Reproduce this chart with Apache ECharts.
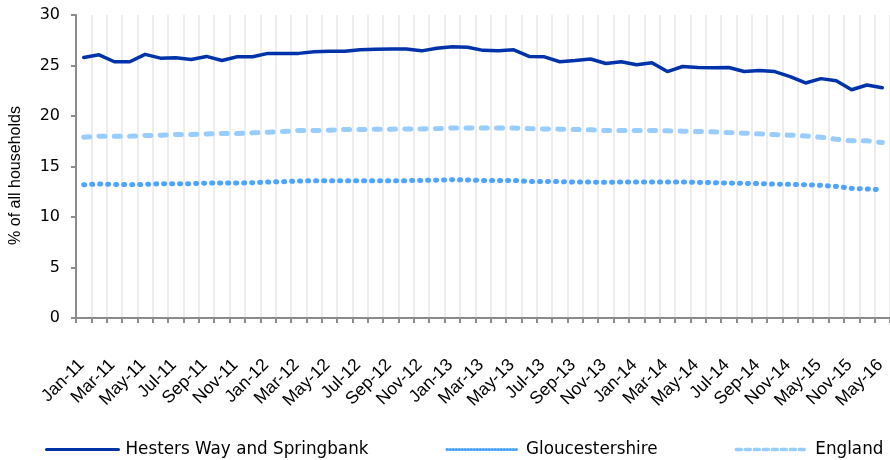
<!DOCTYPE html>
<html>
<head>
<meta charset="utf-8">
<script src="https://cdn.jsdelivr.net/npm/echarts@6/dist/echarts.min.js"></script>
<style>
    html, body { margin: 0; padding: 0; background: #fff; }
    #main { width: 890px; height: 460px; }
</style>
</head>
<body>
<div id="main"></div>
<script>
    // monthly to Nov-14, then quarterly
    let months = ['Jan-11','Feb-11','Mar-11','Apr-11','May-11','Jun-11','Jul-11','Aug-11','Sep-11','Oct-11','Nov-11','Dec-11',
        'Jan-12','Feb-12','Mar-12','Apr-12','May-12','Jun-12','Jul-12','Aug-12','Sep-12','Oct-12','Nov-12','Dec-12',
        'Jan-13','Feb-13','Mar-13','Apr-13','May-13','Jun-13','Jul-13','Aug-13','Sep-13','Oct-13','Nov-13','Dec-13',
        'Jan-14','Feb-14','Mar-14','Apr-14','May-14','Jun-14','Jul-14','Aug-14','Sep-14','Oct-14','Nov-14',
        'Feb-15','May-15','Aug-15','Nov-15','Feb-16','May-16']

    let hesters = [25.8,26.06,25.37,25.37,26.1,25.73,25.77,25.6,25.9,25.5,25.86,25.86,
        26.2,26.2,26.2,26.36,26.4,26.4,26.55,26.6,26.63,26.63,26.45,26.7,
        26.85,26.8,26.5,26.46,26.55,25.9,25.86,25.37,25.5,25.64,25.2,25.37,
        25.07,25.27,24.4,24.9,24.8,24.77,24.8,24.4,24.5,24.4,23.9,
        23.27,23.7,23.5,22.6,23.07,22.8]

    let gloucestershire = [13.2,13.26,13.23,13.2,13.23,13.3,13.3,13.3,13.36,13.36,13.36,13.4,
        13.46,13.5,13.56,13.6,13.6,13.6,13.6,13.6,13.6,13.6,13.62,13.65,
        13.7,13.66,13.62,13.62,13.62,13.52,13.52,13.5,13.46,13.46,13.43,13.46,
        13.46,13.46,13.46,13.46,13.43,13.4,13.36,13.33,13.3,13.26,13.23,
        13.2,13.13,13.03,12.83,12.77,12.7]

    let england = [17.9,18.0,18.0,18.0,18.07,18.1,18.16,18.16,18.23,18.26,18.26,18.33,
        18.4,18.46,18.56,18.56,18.6,18.66,18.66,18.7,18.7,18.72,18.72,18.75,
        18.82,18.82,18.8,18.8,18.8,18.75,18.72,18.7,18.66,18.63,18.56,18.56,
        18.56,18.56,18.53,18.5,18.46,18.43,18.36,18.3,18.23,18.16,18.1,
        18.03,17.9,17.7,17.54,17.54,17.37]

    let yTicks = { min: 0, max: 30, interval: 5 }

    let font = 'Liberation Sans, Arial, sans-serif'
    let wideFont = 'DejaVu Sans, Verdana, sans-serif'
    let axisGrey = '#8c8c8c'

    let setLine = (name, data, color, width, type) => {
        return {
            name,
            type: 'line',
            data,
            symbol: 'none',
            smooth: false,
            lineStyle: { color, width, type, cap: 'round' },
            itemStyle: { color }
        }
    }

    let myChart = echarts.init(document.getElementById('main'), null, { renderer: 'canvas' })
    myChart.setOption({
        animation: false,
        textStyle: { fontFamily: font },
        grid: {
            left: 76,
            right: 0,
            top: 15,
            bottom: 142
        },
        legend: {
            left: 40,
            top: 436,
            itemWidth: 72,
            itemHeight: 12,
            itemGap: 77,
            itemStyle: { opacity: 0 },
            textStyle: { fontSize: 16.8, color: '#000', fontFamily: wideFont, padding: [0, 0, 0, 2] },
            data: [
                { name: 'Hesters Way and Springbank', lineStyle: { width: 3 } },
                { name: 'Gloucestershire', lineStyle: { width: 3, type: [0.5, 2.5], cap: 'round' } },
                { name: 'England', lineStyle: { width: 3.5, type: [5, 4], cap: 'round' } }
            ]
        },
        xAxis: {
            type: 'category',
            boundaryGap: true,
            data: months,
            axisLine: { lineStyle: { color: axisGrey, width: 2 } },
            axisTick: { show: true, interval: 0, length: 5, lineStyle: { color: axisGrey, width: 2 } },
            splitLine: { show: true, interval: 0, lineStyle: { color: '#ededed', width: 2 } },
            axisLabel: {
                interval: 1,
                rotate: 45,
                margin: 42,
                fontSize: 17.5,
                color: '#000',
                padding: [0, 3, 0, 0]
            }
        },
        yAxis: {
            type: 'value',
            ...yTicks,
            name: '% of all households',
            nameLocation: 'middle',
            nameGap: 52,
            nameTextStyle: { fontSize: 16, color: '#000', padding: [0, 18, 0, 0] },
            axisLine: { show: true, lineStyle: { color: axisGrey, width: 2 } },
            axisTick: { show: true, length: 5, lineStyle: { color: axisGrey, width: 2 } },
            splitLine: { show: false },
            axisLabel: { fontSize: 16, color: '#000', margin: 16, fontFamily: wideFont }
        },
        series: [
            setLine('Hesters Way and Springbank', hesters, '#0033AA', 3.5, 'solid'),
            setLine('Gloucestershire', gloucestershire, '#4DA3FF', 5, [1, 7]),
            setLine('England', england, '#99CCFF', 5, [6, 9.3])
        ]
    })
</script>
</body>
</html>
